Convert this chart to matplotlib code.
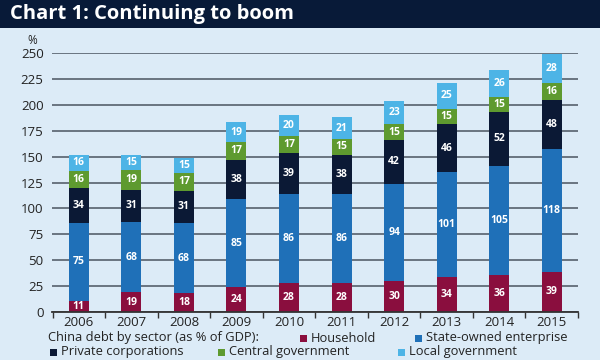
import matplotlib
matplotlib.use("Agg")
import matplotlib.pyplot as plt
import numpy as np
from matplotlib.patches import Rectangle

years = ["2006", "2007", "2008", "2009", "2010", "2011", "2012", "2013", "2014", "2015"]
household = [11, 19, 18, 24, 28, 28, 30, 34, 36, 39]
soe = [75, 68, 68, 85, 86, 86, 94, 101, 105, 118]
private = [34, 31, 31, 38, 39, 38, 42, 46, 52, 48]
central = [16, 19, 17, 17, 17, 15, 15, 15, 15, 16]
local = [16, 15, 15, 19, 20, 21, 23, 25, 26, 28]
series_names = ["Household", "State-owned enterprise", "Private corporations",
                "Central government", "Local government"]
yticks = [0, 25, 50, 75, 100, 125, 150, 175, 200, 225, 250]

colors = ["#8a0e3e", "#1f70b8", "#0b1935", "#5e9a2f", "#4db4e6"]
bg = "#dcebf7"
font = ["Open Sans", "DejaVu Sans"]
plt.rcParams["font.family"] = font

fig = plt.figure(figsize=(6, 3.6), dpi=100, facecolor=bg)
# title bar
fig.patches.append(Rectangle((0, 1 - 28 / 360), 1, 28 / 360, transform=fig.transFigure,
                             facecolor="#081a38", edgecolor="none", zorder=0))
fig.text(10 / 600, 1 - 14 / 360, "Chart 1: Continuing to boom", color="white",
         fontsize=14.5, fontweight="bold", va="center", ha="left")

ax = fig.add_axes([52 / 600, 1 - 312 / 360, (578 - 52) / 600, (312 - 53) / 360])
ax.set_facecolor(bg)
x = np.arange(len(years))
data = [household, soe, private, central, local]
bottom = np.zeros(len(years))
width = 0.38
for vals, c in zip(data, colors):
    vals = np.array(vals, dtype=float)
    ax.bar(x, vals, width, bottom=bottom, color=c, zorder=3)
    for xi, b, v in zip(x, bottom, vals):
        ax.text(xi, b + v / 2, f"{int(v)}", color="white", fontsize=7.5,
                fontweight="bold", ha="center", va="center", zorder=4)
    bottom += vals

ax.set_xlim(-0.51, 9.49)
ax.set_ylim(0, 250)
ax.set_yticks(yticks)
ax.set_yticklabels([str(t) for t in yticks], fontsize=9.5, color="#222222")
ax.yaxis.grid(True, color="#56606c", linewidth=1.2, zorder=1)
ax.tick_params(axis="y", length=0, pad=6)
ax.set_xticks(x)
ax.set_xticklabels(years, fontsize=9.5, color="#222222")
ax.set_xticks(np.arange(-0.5, 10, 1), minor=True)
ax.tick_params(axis="x", which="major", length=0, pad=3)
ax.tick_params(axis="x", which="minor", length=4, color="#333333", width=1)
for s in ["top", "right", "left"]:
    ax.spines[s].set_visible(False)
ax.spines["bottom"].set_color("#333333")
ax.spines["bottom"].set_linewidth(1.3)
ax.spines["bottom"].set_zorder(5)
fig.text(32 / 600, 1 - 40 / 360, "%", fontsize=8.5, color="#222222",
         ha="center", va="center")

# legend lines
y1 = 1 - 338 / 360
y2 = 1 - 352 / 360
fig.text(48 / 600, y1, "China debt by sector (as % of GDP):", fontsize=9.3,
         color="#222222", va="center", ha="left")

def leg_item(xp, yp, col, label):
    fig.patches.append(Rectangle((xp / 600, yp - 3.5 / 360), 7 / 600, 7 / 360,
                                 transform=fig.transFigure, facecolor=col,
                                 edgecolor="none"))
    fig.text((xp + 11) / 600, yp, label, fontsize=9.3, color="#222222",
             va="center", ha="left")

leg_item(300, y1, colors[0], series_names[0])
leg_item(415, y1, colors[1], series_names[1])
leg_item(50, y2, colors[2], series_names[2])
leg_item(218, y2, colors[3], series_names[3])
leg_item(398, y2, colors[4], series_names[4])

fig.savefig("out.png", dpi=100, facecolor=bg)
